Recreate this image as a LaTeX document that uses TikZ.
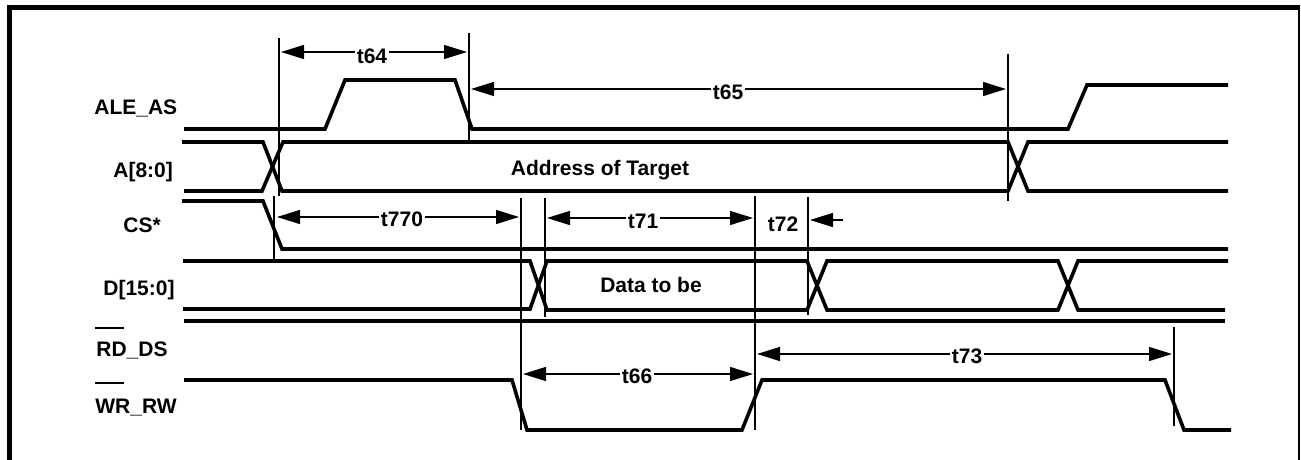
\documentclass[tikz,border=0pt]{standalone}
\usepackage{fontspec}
\setmainfont{Liberation Sans}
\usetikzlibrary{arrows.meta,positioning}

\begin{document}
\begin{tikzpicture}[x=0.5pt,y=-0.5pt,
  sig/.style={line width=1.8pt,line join=miter},
  refline/.style={line width=0.7pt},
  dim/.style={line width=0.7pt,{Triangle[length=11.5pt,width=7pt]}-{Triangle[length=11.5pt,width=7pt]}},
  lbl/.style={font=\fontsize{10.5}{12}\selectfont\bfseries,fill=white,inner sep=1pt},
  signame/.style={font=\fontsize{10.5}{12}\selectfont\bfseries,anchor=base west,inner sep=0pt}]
  \useasboundingbox (0,0) rectangle (1301,460);
  % frame
  \draw[line width=2.5pt] (7,7.5) -- (1300,7.5);
  \draw[line width=2.5pt] (9.5,5) -- (9.5,460);
  \draw[line width=0.9pt] (1299.2,7.5) -- (1299.2,460);
  % signal names
  \node[signame] (ale) at (94,115) {ALE\_AS};
  \node[signame] (addr) at (113,177) {A[8:0]};
  \node[signame] (cs) at (123,232) {CS*};
  \node[signame] (data) at (103,295) {D[15:0]};
  \node[signame] (rd) at (96,356) {RD\_DS};
  \node[signame] (wr) at (95,413) {WR\_RW};
  \draw[refline] (95,328) -- (124,328);
  \draw[refline] (95,383) -- (124,383);
  % waveforms
  \draw[sig] (184,129) -- (325,129) -- (345,80) -- (455,80) -- (472,129) -- (1068,129) -- (1087,85) -- (1228,85);
  \draw[sig] (182,142) -- (263,142) -- (282,191) -- (1008,191) -- (1028,142) -- (1228,142);
  \draw[sig] (184,191) -- (262,191) -- (283,142) -- (1008,142) -- (1028,191) -- (1228,191);
  \draw[sig] (182,201) -- (263,201) -- (282,249) -- (1228,249);
  \draw[sig] (183,261) -- (530,261) -- (547,310) -- (807,310) -- (827,261) -- (1058,261) -- (1078,310) -- (1225,310);
  \draw[sig] (183,309) -- (530,309) -- (547,261) -- (807,261) -- (827,310) -- (1058,310) -- (1078,261) -- (1228,261);
  \draw[sig] (184,321) -- (1225,321);
  \draw[sig] (184,380) -- (512,380) -- (527,430) -- (742,430) -- (762,380) -- (1165,380) -- (1184,430) -- (1231,430);
  \node[font=\fontsize{10.5}{12}\selectfont\bfseries] (addrtxt) at (600,170) {Address of Target};
  \node[font=\fontsize{10.5}{12}\selectfont\bfseries] (datatxt) at (651,285) {Data to be};
  % reference lines
  \draw[refline] (279,38) -- (279,196);
  \draw[refline] (469,33) -- (469,140);
  \draw[refline] (1008,54) -- (1008,201);
  \draw[refline] (274,196) -- (274,260);
  \draw[refline] (521,198) -- (521,430);
  \draw[refline] (545,198) -- (545,317);
  \draw[refline] (755,196) -- (755,430);
  \draw[refline] (808,197) -- (808,315);
  \draw[refline] (1174,327) -- (1174,426);
  % timing arrows
  \coordinate (t64l) at (281,52);  \coordinate (t64r) at (467,52);
  \coordinate (t65l) at (471,89);  \coordinate (t65r) at (1006,89);
  \coordinate (t770l) at (277,217); \coordinate (t770r) at (519,217);
  \coordinate (t71l) at (547,218); \coordinate (t71r) at (753,218);
  \coordinate (t72r) at (843,220); \coordinate (t72l) at (810,220);
  \coordinate (t66l) at (523,374); \coordinate (t66r) at (753,374);
  \coordinate (t73l) at (757,354); \coordinate (t73r) at (1172,354);
  \draw[dim] (t64l) -- (t64r);
  \draw[dim] (t65l) -- (t65r);
  \draw[dim] (t770l) -- (t770r);
  \draw[dim] (t71l) -- (t71r);
  \draw[line width=0.7pt,-{Triangle[length=11.5pt,width=7pt]}] (t72r) -- (t72l);
  \draw[dim] (t66l) -- (t66r);
  \draw[dim] (t73l) -- (t73r);
  \node[lbl] (t64) at (372,56) {t64};
  \node[lbl] (t65) at (728,92) {t65};
  \node[lbl] (t770) at (402,219) {t770};
  \node[lbl] (t71) at (643,221) {t71};
  \node[lbl] (t72) at (783,224) {t72};
  \node[lbl] (t66) at (637,376) {t66};
  \node[lbl] (t73) at (967,356) {t73};
\end{tikzpicture}
\end{document}
